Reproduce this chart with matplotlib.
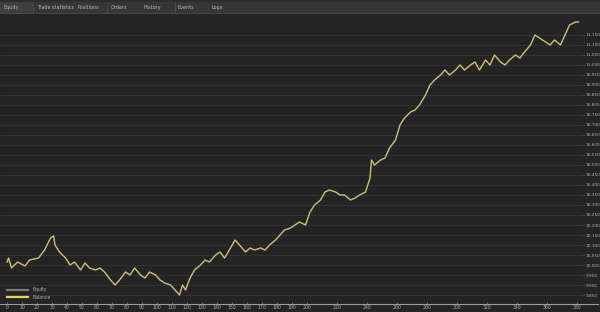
import matplotlib
matplotlib.use("Agg")
import matplotlib.pyplot as plt
from matplotlib.patches import Rectangle

# trade number vs account value
trade_no = [0, 1, 3, 7, 12, 15, 21, 25, 29, 31, 32, 35, 39, 42, 45, 49, 52, 55, 59, 62,
            65, 69, 72, 75, 79, 82, 85, 89, 92, 95, 99, 102, 105, 109, 112, 115, 117, 119, 122, 125,
            129, 132, 135, 139, 142, 145, 149, 152, 155, 159, 162, 165, 169, 172, 175, 179, 182, 185, 189, 192,
            195, 199, 202, 205, 209, 212, 215, 219, 222, 225, 229, 232, 235, 239, 242, 243, 245, 249, 252, 255,
            259, 262, 265, 269, 272, 275, 279, 282, 285, 289, 292, 295, 299, 302, 305, 309, 312, 315, 319, 322,
            325, 329, 332, 335, 339, 342, 345, 349, 352, 355, 359, 362, 365, 369, 372, 375, 379, 381]
balance = [10015, 10035, 9985, 10015, 9995, 10025, 10035, 10075, 10135, 10145, 10100, 10065, 10035, 10000, 10015, 9975, 10010, 9985, 9975, 9985,
           9965, 9925, 9900, 9925, 9965, 9950, 9985, 9950, 9935, 9965, 9950, 9925, 9910, 9900, 9875, 9850, 9900, 9875, 9935, 9975,
           10000, 10025, 10015, 10050, 10065, 10035, 10085, 10125, 10100, 10065, 10085, 10075, 10085, 10075, 10100, 10125, 10150, 10175, 10185, 10200,
           10215, 10200, 10265, 10300, 10325, 10365, 10375, 10365, 10350, 10350, 10325, 10335, 10350, 10365, 10435, 10525, 10500, 10525, 10535, 10585,
           10625, 10700, 10735, 10765, 10775, 10800, 10850, 10900, 10925, 10950, 10975, 10950, 10975, 11000, 10975, 11000, 11015, 10975, 11025, 11000,
           11050, 11015, 11000, 11025, 11050, 11035, 11065, 11100, 11150, 11135, 11115, 11100, 11125, 11100, 11150, 11200, 11215, 11215]
# equity runs on top of balance almost everywhere in the picture
equity = list(balance)

x_ticks = list(range(0, 200, 10)) + list(range(200, 400, 20))
y_ticks = list(range(9850, 11200, 50))
tabs = ["Equity", "Trade statistics", "Positions", "Orders", "History", "Events", "Logs"]
tab_x = [3, 37, 77, 111, 144, 178, 212]

BG = "#242424"
W, H = 600, 312

fig = plt.figure(figsize=(6, 3.12), dpi=100, facecolor=BG)

# chart area
ax = fig.add_axes([0, 8 / H, 583 / W, (304 - 15) / H], facecolor=BG)
ax.plot(trade_no, equity, color="#7a7a7a", lw=1.2, label="Equity")
ax.plot(trade_no, balance, color="#e6cf5c", lw=0.6, label="Balance")
ax.set_xlim(-4.7, 384)
ax.set_ylim(9805, 11250)

ax.set_yticks(y_ticks)
ax.set_yticklabels([f"{v:,}" for v in y_ticks])
ax.yaxis.tick_right()
ax.set_xticks(x_ticks)
ax.grid(axis="y", color="#353535", lw=0.6)
ax.tick_params(axis="y", colors="#b0b0b0", labelsize=3.1, length=1, width=0.4, pad=0.8)
ax.tick_params(axis="x", colors="#b0b0b0", labelsize=3.3, length=1.5, width=0.4,
               pad=1, direction="in")
for s in ["top", "left", "right"]:
    ax.spines[s].set_visible(False)
ax.spines["bottom"].set_color("#9a9a9a")
ax.spines["bottom"].set_linewidth(0.8)
ax.spines["bottom"].set_bounds(-4.7, 394)
ax.spines["bottom"].set_clip_on(False)

leg = ax.legend(loc="lower left", bbox_to_anchor=(0.005, 0.0), frameon=False,
                fontsize=3.3, handlelength=4.5, handletextpad=1, labelspacing=0.6)
for t in leg.get_texts():
    t.set_color("#b0b0b0")
for h in leg.get_lines():
    h.set_linewidth(1.6)

# tab bar on top
tab_ax = fig.add_axes([0, 1 - 14 / H, 1, 14 / H])
tab_ax.set_xlim(0, W)
tab_ax.set_ylim(14, 0)
tab_ax.axis("off")
tab_ax.add_patch(Rectangle((0, 0), W, 14, color="#2c2c2c"))
tab_ax.add_patch(Rectangle((0, 1.5), W, 11.5, color="#363636"))
tab_ax.add_patch(Rectangle((0, 1.5), 33, 11.5, color="#3e3e3e"))
for sep in [33, 107, 175]:
    tab_ax.plot([sep, sep], [1.5, 13], color="#4a4a4a", lw=0.6)
tab_ax.plot([0, W], [13, 13], color="#4a4a4a", lw=0.6)
for name, tx in zip(tabs, tab_x):
    tab_ax.text(tx, 7.5, name, color="#bbbbbb", fontsize=3.5, va="center", ha="left")

fig.savefig("out.png", dpi=100, facecolor=BG)
